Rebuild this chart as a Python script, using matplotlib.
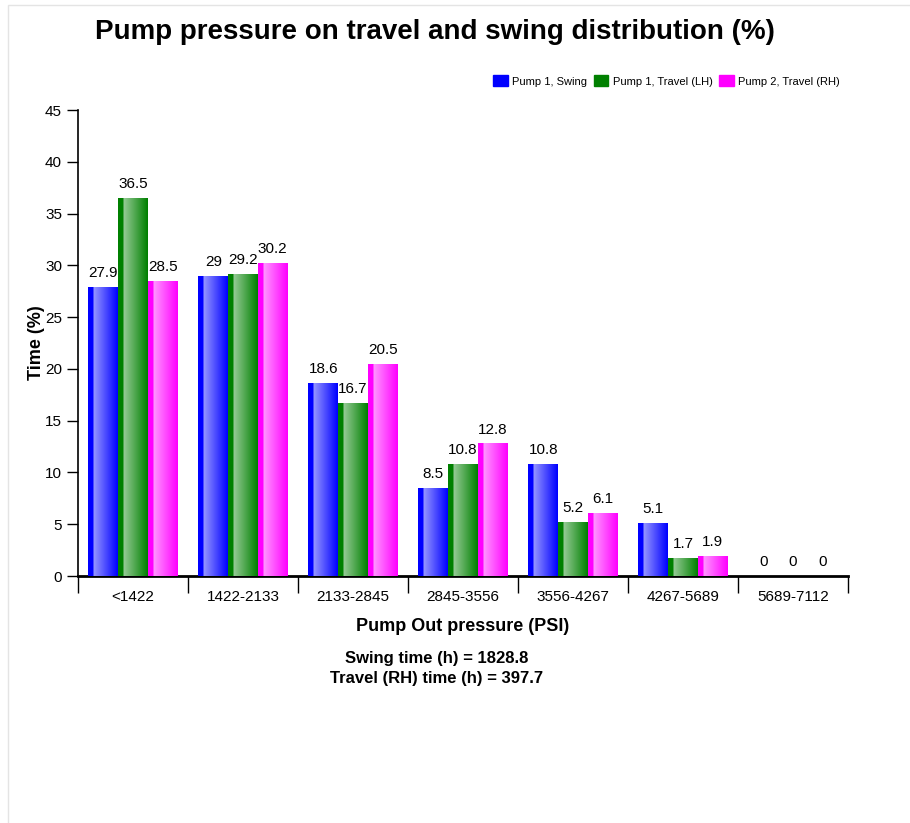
import numpy as np
import matplotlib
matplotlib.use('Agg')
import matplotlib.pyplot as plt
import matplotlib.patches as mpatches
from matplotlib.colors import to_rgb

plt.rcParams['font.family'] = ['Liberation Sans', 'DejaVu Sans']

categories = ['<1422', '1422-2133', '2133-2845', '2845-3556', '3556-4267', '4267-5689', '5689-7112']
swing = [27.9, 29, 18.6, 8.5, 10.8, 5.1, 0]
travel_lh = [36.5, 29.2, 16.7, 10.8, 5.2, 1.7, 0]
travel_rh = [28.5, 30.2, 20.5, 12.8, 6.1, 1.9, 0]
series_names = ['Pump 1, Swing', 'Pump 1, Travel (LH)', 'Pump 2, Travel (RH)']
colors = ['#0000ff', '#008000', '#ff00ff']


def gradient_row(color, n=60):
	# dark strip on the left, light in the middle, back to full colour on the right
	c = np.array(to_rgb(color))
	light = c + (1 - c) * 0.6
	t = np.linspace(0, 1, n)
	row = np.zeros((1, n, 3))
	for i, v in enumerate(t):
		if v < 0.17:
			row[0, i] = c
		else:
			f = (v - 0.17) / 0.83
			row[0, i] = light * (1 - f) + c * f
	return row


fig = plt.figure(figsize=(9.1, 8.23), dpi=100)
fig.patches.append(mpatches.Rectangle((8/910, -0.01), 1.0, 1 - 5/823 + 0.01, transform=fig.transFigure,
	fill=False, edgecolor='#e4e4e4', linewidth=1))
ax = fig.add_axes([78/910, 1 - 576/823, 770/910, 466/823])

x = np.arange(len(categories))
w = 0.27
all_series = [swing, travel_lh, travel_rh]
for k, vals in enumerate(all_series):
	bars = ax.bar(x + (k - 1) * w, vals, width=w, color=colors[k], linewidth=0, zorder=2)
	grad = gradient_row(colors[k])
	for b, v in zip(bars, vals):
		if v > 0:
			im = ax.imshow(grad, extent=[b.get_x(), b.get_x() + b.get_width(), 0, v],
				aspect='auto', zorder=3, interpolation='bilinear')
			im.set_clip_path(b)
		ax.annotate(('%g' % v), xy=(b.get_x() + b.get_width() / 2, v), xytext=(0, 5),
			textcoords='offset points', ha='center', va='bottom', fontsize=11, zorder=5)

ax.set_xlim(-0.5, len(categories) - 0.5)
ax.set_ylim(0, 45)
ax.set_yticks(np.arange(0, 46, 5))
ax.tick_params(axis='y', labelsize=11, length=8, width=1)
ax.set_xticks(np.arange(-0.5, len(categories), 1))
ax.set_xticklabels([])
ax.tick_params(axis='x', length=12, width=1)
ax.set_xticks(x, minor=True)
ax.set_xticklabels(categories, minor=True)
ax.tick_params(axis='x', which='minor', length=0, labelsize=11, pad=10)
ax.spines['top'].set_visible(False)
ax.spines['right'].set_visible(False)
ax.spines['left'].set_linewidth(1.2)
ax.spines['bottom'].set_linewidth(2)

ax.set_ylabel('Time (%)', fontsize=13, fontweight='bold', labelpad=0)
ax.set_xlabel('Pump Out pressure (PSI)', fontsize=13, fontweight='bold', labelpad=10)

fig.text(435/910, 1 - 32/823, 'Pump pressure on travel and swing distribution (%)',
	ha='center', va='center', fontsize=20, fontweight='bold')
fig.text(437/910, 1 - 658/823, 'Swing time (h) = 1828.8', ha='center', va='center', fontsize=12, fontweight='bold')
fig.text(437/910, 1 - 678/823, 'Travel (RH) time (h) = 397.7', ha='center', va='center', fontsize=12, fontweight='bold')

handles = [mpatches.FancyBboxPatch((0, 0), 1, 1, boxstyle='round,pad=0.1', facecolor=c, edgecolor=c) for c in colors]
fig.legend(handles, series_names, loc='center right', bbox_to_anchor=(850/910, 1 - 81/823), ncol=3,
	fontsize=8, frameon=False, handlelength=1.3, handleheight=1.1, handletextpad=0.4, columnspacing=0.6)

fig.savefig('out.png', dpi=100)
